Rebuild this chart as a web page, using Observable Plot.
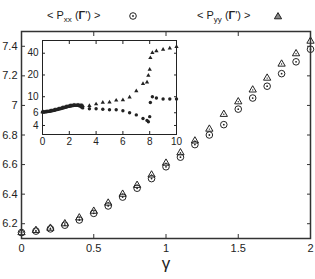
<!DOCTYPE html>
<html><head><meta charset="utf-8">
<script src="https://cdn.jsdelivr.net/npm/d3@7"></script>
<script src="https://cdn.jsdelivr.net/npm/@observablehq/plot@0.6"></script>
<style>
body{margin:0;background:#fff;}
#wrap{position:relative;width:315px;height:279px;overflow:hidden;font-family:"Liberation Sans",Arial,Helvetica,sans-serif;color:#222;}
#main{position:absolute;left:0;top:0;}
#inset{position:absolute;left:22px;top:38px;}
.leg{position:absolute;top:10px;font-size:11px;line-height:11px;white-space:nowrap;}
.leg sub{font-size:8px;vertical-align:-2.5px;line-height:0;}
.icon{position:absolute;top:11px;}
</style></head><body>
<div id="wrap">
  <div id="main"></div>
  <div id="inset"></div>
  <div class="leg" style="left:47px">&lt; P<sub>xx</sub> (<b>Γ</b>') &gt;</div>
  <svg class="icon" style="left:128px" width="10" height="10"><circle cx="5" cy="5" r="3.3" fill="none" stroke="#222" stroke-width="1"/><circle cx="5" cy="5" r="0.9" fill="#222"/></svg>
  <div class="leg" style="left:197px">&lt; P<sub>yy</sub> (<b>Γ</b>') &gt;</div>
  <svg class="icon" style="left:273px" width="10" height="10"><path d="M5,1.6 L8.6,7.8 L1.4,7.8 Z" fill="#888" stroke="#222" stroke-width="1"/></svg>
</div>
<script>
// ---- main chart data ----
const gamma = [0, 0.1, 0.2, 0.3, 0.4, 0.5, 0.6, 0.7, 0.8, 0.9, 1.0, 1.1, 1.2, 1.3, 1.4, 1.5, 1.6, 1.7, 1.8, 1.9, 2.0];
const pxx = [6.14, 6.15, 6.165, 6.19, 6.225, 6.27, 6.32, 6.38, 6.44, 6.505, 6.585, 6.65, 6.735, 6.80, 6.87, 6.975, 7.05, 7.13, 7.215, 7.295, 7.38];
const pyy = [6.14, 6.155, 6.17, 6.20, 6.24, 6.285, 6.34, 6.40, 6.46, 6.53, 6.61, 6.68, 6.76, 6.84, 6.94, 7.025, 7.105, 7.185, 7.28, 7.35, 7.435];
const xTicks = [0, 0.5, 1, 1.5, 2];
const yTicks = [6.2, 6.4, 6.6, 6.8, 7, 7.2, 7.4];

// ---- inset data ----
const insetX = [0, 0.1, 0.2, 0.3, 0.4, 0.5, 0.6, 0.7, 0.8, 0.9, 1.0, 1.1, 1.2, 1.3, 1.4, 1.5, 1.6, 1.7, 1.8, 1.9, 2.0,
  2.1, 2.2, 2.3, 2.4, 2.5, 2.6, 2.7, 2.8, 2.9, 3.0,
  3.5, 4.0, 4.5, 5.0, 5.5, 6.0, 6.5, 7.0, 7.5, 7.8, 7.9, 8.0, 8.05, 8.2, 8.5, 9.0, 9.5, 10.0];
const insetPxx = [6.14, 6.15, 6.165, 6.19, 6.225, 6.27, 6.32, 6.38, 6.44, 6.505, 6.585, 6.65, 6.735, 6.80, 6.87, 6.975, 7.05, 7.13, 7.215, 7.295, 7.38,
  7.45, 7.5, 7.55, 7.6, 7.6, 7.6, 7.55, 7.4, 7.2, 7.0,
  6.8, 6.8, 6.7, 6.6, 6.6, 6.4, 6.0, 5.6, 5.0, 4.7, 4.5, 5.3, 8.3, 10.0, 9.6, 9.3, 9.3, 9.3];
const insetPyy = [6.14, 6.155, 6.17, 6.20, 6.24, 6.285, 6.34, 6.40, 6.46, 6.53, 6.61, 6.68, 6.76, 6.84, 6.94, 7.025, 7.105, 7.185, 7.28, 7.35, 7.435,
  7.5, 7.55, 7.6, 7.65, 7.65, 7.65, 7.65, 7.6, 7.55, 7.5,
  7.5, 7.9, 8.3, 8.4, 8.9, 9.0, 9.8, 12.0, 15.1, 15.9, 19.6, 23.8, 34.5, 40.5, 43, 45, 47, 49];
const insetXTicks = [0, 2, 4, 6, 8, 10];
const insetYTicks = [4, 6, 10, 20, 40];

const font = '"Liberation Sans", Arial, Helvetica, sans-serif';
const ink = "#222";
const fmt = d => String(d);

const mainRows = gamma.map((g, i) => ({g, pxx: pxx[i], pyy: pyy[i]}));
const insetRows = insetX.map((x, i) => ({x, pxx: insetPxx[i], pyy: insetPyy[i]}));

const main = Plot.plot({
  width: 315, height: 279,
  marginLeft: 21, marginRight: 5, marginTop: 31, marginBottom: 41,
  style: {fontFamily: font, fontSize: "11px", color: ink, background: "transparent", overflow: "visible"},
  x: {domain: [0, 2]},
  y: {domain: [6.1, 7.5]},
  marks: [
    Plot.dot(mainRows, {x: "g", y: "pyy", symbol: "triangle", r: 2.7, stroke: ink, fill: "none", strokeWidth: 1}),
    Plot.dot(mainRows, {x: "g", y: "pyy", r: 0.7, fill: ink}),
    Plot.dot(mainRows, {x: "g", y: "pxx", r: 3.3, stroke: ink, fill: "none", strokeWidth: 1}),
    Plot.dot(mainRows, {x: "g", y: "pxx", r: 0.9, fill: ink}),
    Plot.frame({stroke: "#333", strokeWidth: 1.5}),
    Plot.axisX({ticks: xTicks, tickFormat: fmt, tickSize: -4, tickPadding: 10, stroke: "#333", label: null}),
    Plot.axisX({anchor: "top", ticks: xTicks, tickSize: -4, stroke: "#333", fill: "none", label: null}),
    Plot.axisY({ticks: yTicks, tickFormat: fmt, tickSize: -4, tickPadding: 8, stroke: "#333", label: null}),
    Plot.axisY({anchor: "right", ticks: yTicks, tickSize: -4, stroke: "#333", fill: "none", label: null}),
    Plot.text(["γ"], {frameAnchor: "bottom", dy: 30, fontSize: 17, fill: ink})
  ]
});
document.getElementById("main").appendChild(main);

const inset = Plot.plot({
  width: 157, height: 110,
  marginLeft: 20, marginRight: 3, marginTop: 2, marginBottom: 14,
  style: {fontFamily: font, fontSize: "10px", color: ink, background: "transparent", overflow: "visible"},
  x: {domain: [0, 10]},
  y: {type: "log", domain: [3, 60]},
  marks: [
    Plot.frame({fill: "white"}),
    Plot.dot(insetRows, {x: "x", y: "pyy", symbol: "triangle", r: 1.6, fill: ink}),
    Plot.dot(insetRows, {x: "x", y: "pxx", r: 1.7, fill: ink}),
    Plot.frame({stroke: ink, strokeWidth: 1}),
    Plot.axisX({ticks: insetXTicks, tickFormat: fmt, tickSize: -3, tickPadding: 6, stroke: ink, label: null}),
    Plot.axisX({anchor: "top", ticks: insetXTicks, tickSize: -3, stroke: ink, fill: "none", label: null}),
    Plot.axisY({ticks: insetYTicks, tickFormat: fmt, tickSize: -3, tickPadding: 7, stroke: ink, label: null}),
    Plot.axisY({anchor: "right", ticks: insetYTicks, tickSize: -3, stroke: ink, fill: "none", label: null})
  ]
});
document.getElementById("inset").appendChild(inset);
</script>
</body></html>
